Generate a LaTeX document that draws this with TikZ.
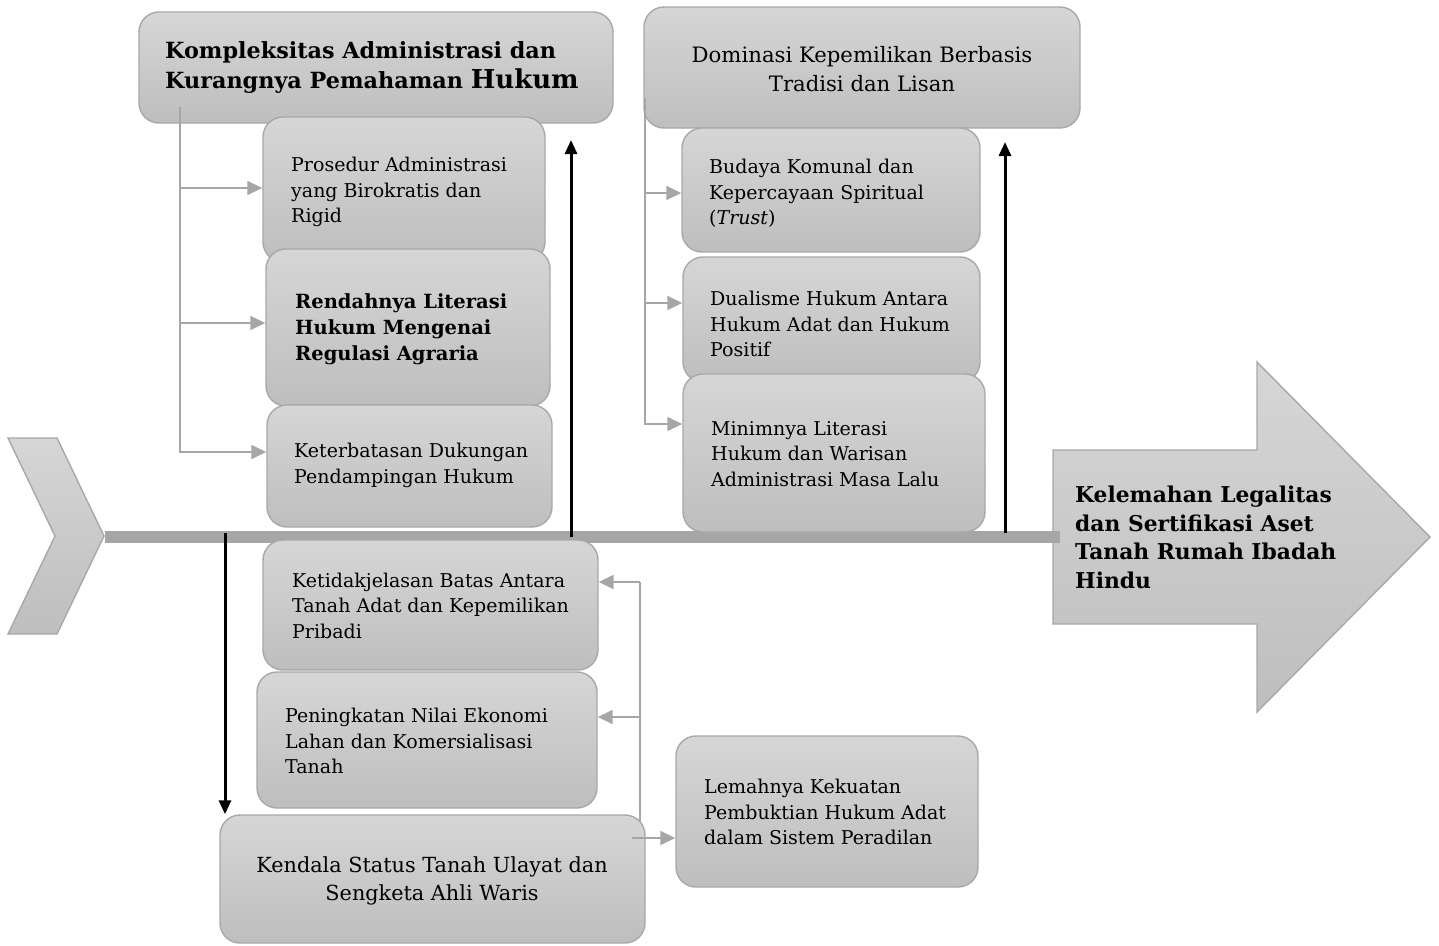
\documentclass[tikz,border=0pt]{standalone}
\usepackage{fontspec}
\setmainfont{DejaVu Serif}
\usetikzlibrary{arrows.meta,shadings}
\definecolor{boxtop}{RGB}{214,214,214}
\definecolor{boxbot}{RGB}{190,190,190}
\definecolor{bord}{RGB}{168,168,168}
\definecolor{spinec}{RGB}{166,166,166}
\definecolor{conn}{RGB}{166,166,166}
\begin{document}
\begin{tikzpicture}[x=1pt,y=-1pt,
  box/.style={draw=bord, line width=1.4pt, rounded corners=20pt, top color=boxtop, bottom color=boxbot, inner sep=0pt},
  txt/.style={align=left, inner sep=0pt, font=\fontsize{19}{25.5}\selectfont, anchor=west},
  btxt/.style={align=left, inner sep=0pt, font=\bfseries\fontsize{19.5}{26}\selectfont, anchor=west},
  ctxt/.style={align=center, inner sep=0pt},
  garrow/.style={draw=conn, line width=1.6pt, -{Triangle[length=15pt,width=14pt]}},
  gline/.style={draw=conn, line width=1.6pt},
  karrow/.style={draw=black, line width=3pt, -{Triangle[length=14pt,width=12pt]}},
  shapefill/.style={draw=bord, line width=1.4pt, top color=boxtop, bottom color=boxbot},
]
\useasboundingbox (0,0) rectangle (1439,945);

% tail chevron and head arrow
\path[shapefill] (8,438) -- (57,438) -- (104,536) -- (57,634) -- (8,634) -- (55,536) -- cycle;
\path[shapefill] (1053,450) -- (1257,450) -- (1257,362) -- (1430,537) -- (1257,712) -- (1257,624) -- (1053,624) -- cycle;
\node[btxt, font=\bfseries\fontsize{21.8}{28.5}\selectfont] (head) at (1075,537.5) {Kelemahan Legalitas\\dan Sertifikasi Aset\\Tanah Rumah Ibadah\\Hindu};

% spine
\coordinate (sp0) at (105,536.5);
\coordinate (sp1) at (1060,536.5);
\draw[spinec, line width=12pt] (sp0) -- (sp1);

% upper-left group
\node[box, minimum width=474pt, minimum height=111pt] (kom) at (376,67.5) {};
\node[btxt, font=\bfseries\fontsize{22.3}{30}\selectfont] (komt) at (165,68) {Kompleksitas Administrasi dan\\Kurangnya Pemahaman {\fontsize{26}{30}\selectfont Hukum}};
\node[box, minimum width=282pt, minimum height=145pt] (pro) at (404,189.5) {};
\node[txt] (prot) at (291,192) {Prosedur Administrasi\\yang Birokratis dan\\Rigid};
\node[box, minimum width=284pt, minimum height=157pt] (ren) at (408,327.5) {};
\node[btxt] (rent) at (295,329) {Rendahnya Literasi\\Hukum Mengenai\\Regulasi Agraria};
\node[box, minimum width=285pt, minimum height=122pt] (ket) at (409.5,466) {};
\node[txt] (kett) at (294,465.5) {Keterbatasan Dukungan\\Pendampingan Hukum};

% upper-right group
\node[box, minimum width=436pt, minimum height=121pt] (dom) at (862,67.5) {};
\node[ctxt, font=\fontsize{21.2}{29}\selectfont] (domt) at (862,69.5) {Dominasi Kepemilikan Berbasis\\Tradisi dan Lisan};
\node[box, minimum width=298pt, minimum height=124pt] (bud) at (831,190) {};
\node[txt] (budt) at (709,193.5) {Budaya Komunal dan\\Kepercayaan Spiritual\\(\textit{Trust})};
\node[box, minimum width=297pt, minimum height=125pt] (dua) at (831.5,319.5) {};
\node[txt] (duat) at (710,324) {Dualisme Hukum Antara\\Hukum Adat dan Hukum\\Positif};
\node[box, minimum width=302pt, minimum height=158pt] (min) at (834,453) {};
\node[txt] (mint) at (711,454) {Minimnya Literasi\\Hukum dan Warisan\\Administrasi Masa Lalu};

% lower group
\node[box, minimum width=335pt, minimum height=130pt] (tid) at (430.5,605) {};
\node[txt] (tidt) at (292,605.5) {Ketidakjelasan Batas Antara\\Tanah Adat dan Kepemilikan\\Pribadi};
\node[box, minimum width=340pt, minimum height=136pt] (pen) at (427,740) {};
\node[txt] (pent) at (285,741) {Peningkatan Nilai Ekonomi\\Lahan dan Komersialisasi\\Tanah};
\node[box, minimum width=302pt, minimum height=151pt] (lem) at (827,811.5) {};
\node[txt] (lemt) at (704,812) {Lemahnya Kekuatan\\Pembuktian Hukum Adat\\dalam Sistem Peradilan};
\coordinate (lt) at (640,823);
\coordinate (lb1) at (640,582);
\coordinate (lb2) at (640,717);
\draw[gline] (lt) -- (lb1);
\node[box, minimum width=425pt, minimum height=128pt] (ken) at (432.5,879) {};
\node[ctxt, font=\fontsize{20.8}{28}\selectfont] (kent) at (432,881) {Kendala Status Tanah Ulayat dan\\Sengketa Ahli Waris};

% gray connectors, upper left
\coordinate (ut) at (180,107);
\coordinate (ub) at (180,453);
\coordinate (u1) at (180,188);
\coordinate (u2) at (180,323);
\coordinate (u3) at (180,452);
\draw[gline] (ut) -- (ub);
\draw[garrow] (u1) -- (pro.west |- u1);
\draw[garrow] (u2) -- (ren.west |- u2);
\draw[garrow] (u3) -- (ket.west |- u3);

% gray connectors, upper right
\coordinate (rt) at (645,98);
\coordinate (rb) at (645,425);
\coordinate (r1) at (645,193);
\coordinate (r2) at (645,303);
\coordinate (r3) at (645,424);
\draw[gline] (rt) -- (rb);
\draw[garrow] (r1) -- (bud.west |- r1);
\draw[garrow] (r2) -- (dua.west |- r2);
\draw[garrow] (r3) -- (min.west |- r3);

% gray connectors, lower
\draw[garrow] (lb1) -- (tid.east |- lb1);
\draw[garrow] (lb2) -- (pen.east |- lb2);
\coordinate (kl) at (632,838);
\draw[garrow] (kl) -- (lem.west |- kl);

% black arrows
\coordinate (k1) at (571,537);
\coordinate (k1e) at (571,140);
\coordinate (k2) at (1005,533);
\coordinate (k2e) at (1005,142);
\coordinate (k3) at (225,533);
\draw[karrow] (k1) -- (k1e);
\draw[karrow] (k2) -- (k2e);
\draw[karrow] (k3) -- (ken.north -| k3);
\end{tikzpicture}
\end{document}
